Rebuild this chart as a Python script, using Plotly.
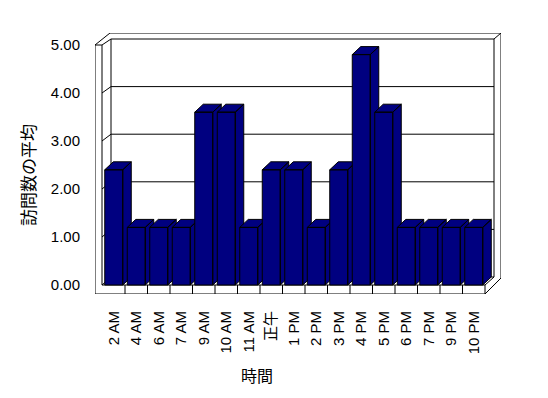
import plotly.graph_objects as go

# ---------------- data ----------------
CATEGORIES = ["2 AM", "4 AM", "6 AM", "7 AM", "9 AM", "10 AM", "11 AM", "正午",
              "1 PM", "2 PM", "3 PM", "4 PM", "5 PM", "6 PM", "7 PM", "9 PM", "10 PM"]
VALUES = [2.4, 1.2, 1.2, 1.2, 3.6, 3.6, 1.2, 2.4, 2.4, 1.2, 2.4, 4.8, 3.6,
          1.2, 1.2, 1.2, 1.2]
Y_TICKS = [0, 1, 2, 3, 4, 5]
Y_TICK_LABELS = ["0.00", "1.00", "2.00", "3.00", "4.00", "5.00"]
X_TITLE = "時間"
Y_TITLE = "訪問数の平均"

# ---------------- style / geometry ----------------
W, H = 548, 398
PL, PR, PT, PB = 95, 501, 33, 294          # plot area in pixels
X0_PX, CAT_PX = 113.75, 22.5               # category 0 centre, px per category
Y0_PX, UNIT_PX = 285, 48                   # y=0 pixel, px per unit

def X(px):
    return (px - X0_PX) / CAT_PX

def Y(py):
    return (Y0_PX - py) / UNIT_PX

X_RANGE = [X(PL), X(PR)]
Y_RANGE = [Y(PB), Y(PT)]

BAR_HALF = 0.4
DX = 8.5 / CAT_PX
DY = 8 / UNIT_PX
NAVY = "#000080"
FONT = "Liberation Sans, Arial, Noto Sans CJK JP"

fig = go.Figure()

# bars: top, side and front faces, drawn left to right
for i, v in enumerate(VALUES):
    l, r = i - BAR_HALF, i + BAR_HALF
    xs = [l, r, r + DX, l + DX, l, None,
          r, r + DX, r + DX, r, r, None,
          l, r, r, l, l]
    ys = [v, v, v + DY, v + DY, v, None,
          0, DY, v + DY, v, 0, None,
          0, 0, v, v, 0]
    fig.add_trace(go.Scatter(
        x=xs, y=ys, mode="lines", fill="toself", fillcolor=NAVY,
        line=dict(color="black", width=1), hoverinfo="skip", showlegend=False,
        name=CATEGORIES[i]))

# frame (walls / floor) lines, in pixel coordinates
def seg(x0, y0, x1, y1):
    return dict(type="line", xref="x", yref="y", layer="below",
                x0=X(x0), y0=Y(y0), x1=X(x1), y1=Y(y1),
                line=dict(color="black", width=1))

LW_OUT, LW_IN = 95, 102      # left wall front edges
BW_L, BW_R, BW_OR = 111, 494, 501
FLOOR_R = 485
shapes = [
    seg(LW_OUT, 45, LW_OUT, PB),
    seg(LW_IN, 45, LW_IN, 285),
    seg(LW_OUT, 45, LW_IN, 45),
    seg(LW_OUT, 45, 110, PT),
    seg(110, PT, BW_OR, PT),
    seg(BW_R, 39, BW_OR, PT),
    seg(BW_R, 39, BW_R, 277),
    seg(BW_OR, PT, BW_OR, 278),
    seg(BW_L, 39, BW_L, 277),
    # floor
    seg(LW_OUT, PB, FLOOR_R, PB),
    seg(LW_IN, 285, FLOOR_R, 285),
    seg(FLOOR_R, 285, FLOOR_R, PB),
    seg(FLOOR_R, 285, BW_R, 277),
    seg(FLOOR_R, PB, BW_OR, 278),
]
# gridlines on back wall + diagonals on left wall
for t in Y_TICKS:
    yf = Y0_PX - UNIT_PX * t
    yb = yf - (8 - 0.4 * t)
    shapes.append(seg(LW_IN, yf, BW_L, yb))
    shapes.append(seg(BW_L, yb, BW_R, yb))
# floor front divisions between categories
for k in range(len(CATEGORIES) - 1):
    px = X0_PX + CAT_PX * (k + 0.5)
    shapes.append(seg(px, 285, px, PB))

def paper_x(px):
    return (px - PL) / (PR - PL)

def paper_y(py):
    return (PB - py) / (PB - PT)

annotations = [
    dict(text=Y_TITLE, textangle=-90, xref="paper", yref="paper",
         x=paper_x(28), y=paper_y(175), showarrow=False,
         xanchor="center", yanchor="middle",
         font=dict(family="Noto Sans CJK JP", size=17, color="black")),
    dict(text=X_TITLE, xref="paper", yref="paper",
         x=paper_x(257), y=paper_y(375), showarrow=False,
         xanchor="center", yanchor="middle",
         font=dict(family="Noto Sans CJK JP", size=16, color="black")),
]

fig.update_layout(
    width=W, height=H, autosize=False,
    margin=dict(l=PL, r=W - PR, t=PT, b=H - PB, pad=0),
    paper_bgcolor="white", plot_bgcolor="white",
    showlegend=False, shapes=shapes, annotations=annotations,
    font=dict(family=FONT, size=15, color="black"),
    xaxis=dict(range=X_RANGE, showgrid=False, zeroline=False, showline=False,
               tickmode="array", tickvals=list(range(len(CATEGORIES))),
               ticktext=CATEGORIES, tickangle=-90, ticks="outside",
               ticklen=10, tickcolor="rgba(0,0,0,0)",
               tickfont=dict(family=FONT, size=15), fixedrange=True),
    yaxis=dict(range=Y_RANGE, showgrid=False, zeroline=False, showline=False,
               tickmode="array", tickvals=Y_TICKS, ticktext=Y_TICK_LABELS,
               ticks="outside", ticklen=11, tickcolor="rgba(0,0,0,0)",
               tickfont=dict(family=FONT, size=15), fixedrange=True),
)

fig.write_html("out.html")
